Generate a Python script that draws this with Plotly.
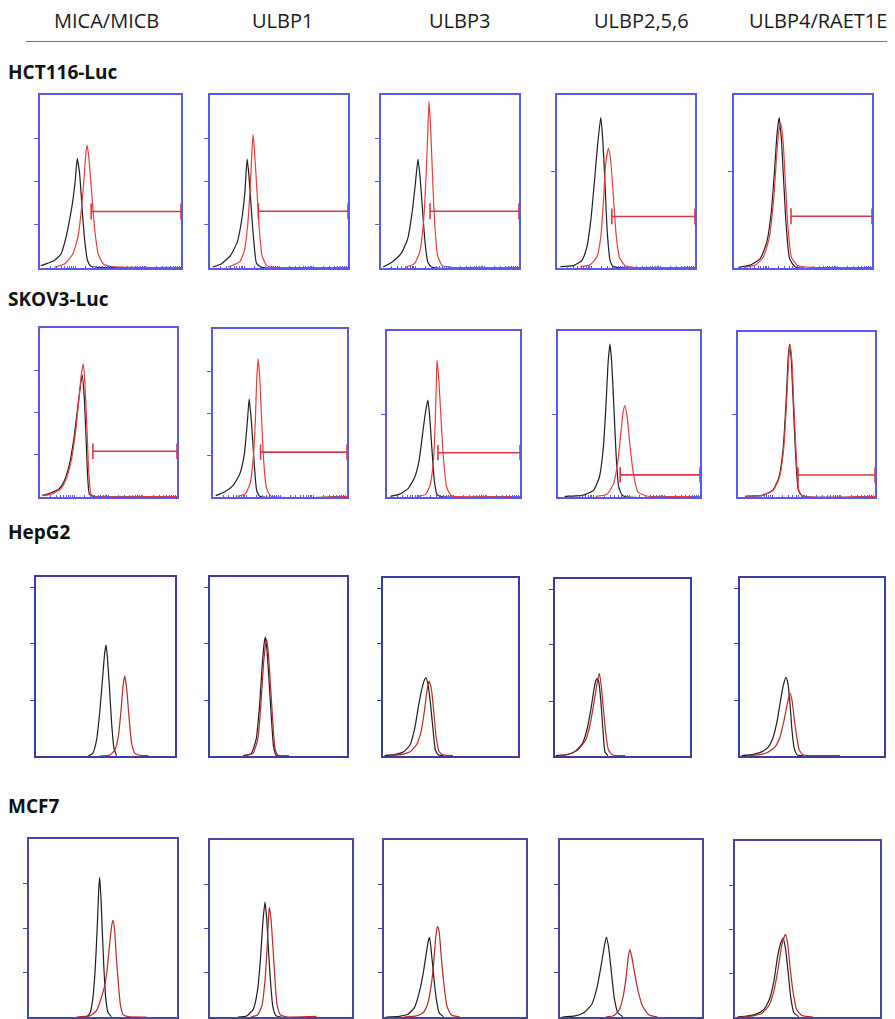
import numpy as np
import plotly.graph_objects as go

# ---------------- data ----------------
ANTIBODIES = ["MICA/MICB", "ULBP1", "ULBP3", "ULBP2,5,6", "ULBP4/RAET1E"]
CELL_LINES = ["HCT116-Luc", "SKOV3-Luc", "HepG2", "MCF7"]

# Each curve: list of (fluorescence, % of max count) points.
# Black = isotype control, red = ligand staining.
HCT116_ISO = [
    [(0.5,1.4),(5.3,2.7),(10.1,4.3),(14.9,8.1),(18.5,17.8),(20.9,27.5),(23.3,39.1),(25.0,50.7),(26.4,63.2),(28.1,54.5),(29.8,35.2),(31.7,15.9),(33.7,4.3),(36.1,1.0),(41.3,0.4),(100,0.3)],
    [(1.9,0.6),(8.4,2.5),(14.9,7.3),(19.8,15.1),(23.1,28.6),(25.3,44.0),(26.9,62.9),(28.2,53.7),(29.9,34.4),(31.8,15.1),(33.8,2.5),(37.7,0.4),(100,0.3)],
    [(1.6,0.6),(8.1,3.5),(14.5,8.3),(19.4,17.0),(22.6,32.4),(24.8,47.9),(26.8,62.9),(28.4,51.7),(30.0,34.4),(31.9,15.1),(33.9,3.5),(37.1,0.4),(100,0.3)],
    [(2.4,0.8),(12.0,1.4),(18.0,4.3),(21.6,12.0),(24.5,27.5),(27.2,50.7),(29.3,70.0),(31.7,87.0),(33.2,73.9),(34.9,46.8),(36.5,19.7),(38.5,4.3),(40.9,0.8),(100,0.3)],
    [(3.2,0.4),(11.1,1.5),(19.0,5.4),(23.8,15.1),(27.0,32.4),(29.5,57.5),(31.1,76.8),(32.7,86.9),(34.3,74.9),(35.9,51.7),(37.8,24.7),(40.3,5.4),(44.4,0.6),(100,0.3)],
]
HCT116_STAIN = [
    [(10.1,0.4),(17.3,2.3),(23.3,8.1),(26.9,17.8),(29.3,33.3),(31.3,52.6),(32.5,66.2),(33.4,71.0),(34.6,64.2),(36.5,44.9),(38.9,21.7),(41.3,8.1),(45.0,2.3),(51.0,0.8),(100,0.3)],
    [(13.3,0.6),(21.4,3.5),(24.7,9.3),(27.3,24.7),(29.2,47.9),(30.5,69.1),(31.2,77.2),(32.1,69.1),(33.8,47.9),(35.7,22.8),(37.7,7.3),(40.9,1.5),(47.4,0.4),(100,0.3)],
    [(17.7,0.4),(24.2,2.5),(28.1,9.3),(30.6,24.7),(32.6,51.7),(33.9,78.8),(34.8,96.5),(36.1,78.8),(37.4,51.7),(39.0,24.7),(41.0,7.3),(44.2,1.5),(50.0,0.4),(100,0.3)],
    [(16.8,0.8),(24.0,1.9),(28.8,6.2),(31.7,17.8),(33.7,39.1),(35.3,60.3),(37.3,69.1),(38.9,62.3),(40.9,41.0),(42.8,19.7),(45.2,6.2),(49.3,1.4),(55.3,0.4),(100,0.3)],
    [(7.9,0.4),(15.9,1.9),(21.3,6.4),(25.4,17.0),(28.6,38.2),(30.8,63.3),(32.4,78.8),(34.0,83.6),(35.6,73.0),(37.1,51.7),(39.0,24.7),(41.6,6.4),(46.0,1.5),(55.6,0.4),(100,0.3)],
]
HCT116_GATE_START = [36.3, 35.1, 35.5, 39.7, 41.3]
HCT116_GATE_LEVEL = [32.7, 32.8, 32.8, 29.8, 29.9]

SKOV3_ISO = [
    [(1.7,1.0),(8.0,2.4),(14.2,5.0),(17.9,9.9),(21.6,19.8),(24.9,35.6),(27.9,55.4),(29.9,68.3),(30.8,72.3),(32.3,59.4),(33.6,35.6),(34.8,11.9),(36.1,1.6),(39.1,0.4),(100,0.3)],
    [(2.0,0.8),(8.6,3.0),(15.1,6.9),(20.1,13.9),(23.4,25.7),(25.7,45.5),(27.0,58.4),(28.6,45.5),(30.6,21.8),(32.6,4.0),(34.9,0.4),(100,0.3)],
    [(2.6,0.4),(9.2,1.6),(15.8,5.0),(20.8,11.9),(24.1,21.8),(26.7,37.6),(29.0,51.5),(30.7,58.4),(32.0,49.5),(33.7,29.7),(35.6,9.9),(37.6,1.6),(40.6,0.2),(100,0.3)],
    [(4.7,0.4),(17.2,1.0),(25.0,4.0),(29.1,11.9),(31.9,29.7),(33.8,55.4),(35.3,81.2),(36.6,92.1),(37.8,81.2),(39.4,53.5),(40.9,25.7),(42.8,5.9),(45.9,0.6),(100,0.3)],
    [(5.2,0.4),(17.6,1.0),(25.3,4.0),(29.9,11.9),(33.0,29.7),(35.2,59.4),(36.7,85.1),(37.7,92.7),(38.9,83.2),(40.4,55.4),(42.3,21.8),(44.1,4.0),(46.9,0.6),(100,0.3)],
]
SKOV3_STAIN = [
    [(3.0,0.8),(9.2,2.0),(15.4,5.0),(19.2,10.9),(22.9,21.8),(26.1,39.6),(28.6,59.4),(30.3,73.3),(31.6,78.8),(32.8,67.3),(34.3,39.6),(35.8,11.9),(37.3,1.6),(40.3,0.4),(100,0.3)],
    [(18.4,0.4),(24.3,2.0),(27.6,7.9),(29.9,21.8),(31.6,45.5),(32.6,69.3),(33.6,82.2),(34.9,71.3),(36.2,47.5),(37.8,21.8),(39.8,5.9),(43.1,0.6),(100,0.3)],
    [(22.4,0.2),(29.0,1.6),(32.3,6.9),(34.7,19.8),(36.0,39.6),(37.0,65.3),(37.6,82.2),(38.9,71.3),(40.6,47.5),(42.6,21.8),(44.9,5.9),(48.2,0.8),(53.8,0.2),(100,0.3)],
    [(26.6,0.4),(34.4,1.6),(39.1,7.9),(42.2,21.8),(44.4,39.6),(45.9,51.5),(47.2,55.0),(48.8,47.5),(50.6,31.7),(53.1,13.9),(56.3,3.0),(62.5,0.6),(100,0.3)],
    [(5.6,0.4),(18.0,1.0),(25.7,4.0),(30.3,11.9),(33.4,29.7),(35.6,59.4),(37.1,85.1),(38.0,92.1),(39.3,83.2),(40.8,55.4),(42.7,21.8),(44.5,4.0),(47.3,0.6),(100,0.3)],
]
SKOV3_GATE_START = [38.6, 35.5, 38.3, 43.8, 43.8]
SKOV3_GATE_LEVEL = [27.1, 26.7, 26.7, 13.3, 13.3]

HEPG2_ISO = [
    [(37.6,0),(40.8,1.5),(43.6,9.0),(46.0,25.7),(48.0,44.4),(49.4,57.5),(50.4,62.1),(51.3,55.6),(52.8,38.8),(54.4,18.3),(56.1,4.3),(58.0,0.2)],
    [(24.3,0.2),(30.2,1.5),(33.8,9.9),(36.2,28.4),(38.1,50.7),(39.5,62.8),(40.5,66.5),(41.7,58.2),(43.3,39.6),(45.0,19.1),(46.4,5.2),(48.1,0.6),(52.9,0)],
    [(1.2,0.2),(9.4,0.9),(15.3,2.4),(20.0,6.2),(23.5,15.5),(26.4,28.6),(28.9,38.0),(30.6,42.6),(31.8,44.1),(33.4,39.8),(35.3,28.6),(37.2,13.6),(38.8,3.4),(41.2,0.6),(44.7,0.2)],
    [(0.5,0.2),(7.5,0.6),(14.5,2.4),(20.4,7.2),(23.9,15.6),(26.7,26.9),(29.0,38.2),(30.4,42.9),(31.4,43.9),(32.6,41.1),(34.0,30.7),(35.6,13.7),(37.0,2.4),(39.1,0.2)],
    [(1.2,0.2),(9.3,0.9),(15.0,2.3),(19.7,5.1),(23.1,10.7),(25.9,20.1),(28.2,31.4),(30.1,39.8),(31.9,44.2),(33.3,40.8),(34.7,29.5),(36.1,14.5),(37.7,4.1),(39.8,0.6),(44.0,0.2)],
]
HEPG2_STAIN = [
    [(46.0,0),(53.2,0.6),(56.8,3.4),(59.2,10.8),(61.2,25.7),(62.6,38.8),(63.8,44.8),(65.2,37.9),(66.9,22.0),(68.8,7.1),(71.2,1.5),(74.8,0.4),(80.8,0.2)],
    [(25.5,0.2),(31.4,1.5),(35.0,9.9),(37.1,28.4),(39.0,50.7),(40.5,61.9),(41.4,65.2),(42.6,57.2),(44.3,37.7),(46.0,17.3),(47.4,4.6),(49.3,0.6),(57.6,0.2)],
    [(4.7,0.2),(14.1,0.9),(20.0,2.4),(24.7,6.2),(28.2,13.6),(30.6,24.9),(32.5,36.1),(34.1,42.1),(35.8,37.9),(37.6,24.9),(39.5,9.9),(41.6,2.4),(44.7,0.6),(51.8,0.2)],
    [(2.8,0.2),(9.8,0.9),(16.9,3.4),(22.7,9.0),(26.2,18.5),(29.0,30.7),(31.4,42.0),(32.8,46.7),(34.2,40.1),(35.6,28.8),(37.5,13.7),(39.6,3.4),(42.6,0.6),(52.0,0.2)],
    [(4.6,0.2),(13.9,0.8),(19.7,2.3),(24.3,5.1),(27.8,10.7),(30.6,20.1),(32.9,29.5),(34.7,35.2),(36.1,31.4),(37.5,22.0),(39.4,10.7),(41.2,3.2),(44.0,0.6),(50.9,0.2),(69.4,0.2)],
]

MCF7_ISO = [
    [(39.2,0),(41.4,2.5),(43.2,10.9),(44.8,27.9),(46.2,52.5),(47.1,71.3),(47.7,78.5),(48.6,67.5),(49.5,48.7),(50.7,26.0),(51.8,10.9),(53.4,2.5),(55.6,0.2)],
    [(19.6,0),(25.8,0.6),(30.4,4.3),(33.4,14.6),(35.6,33.4),(37.1,52.2),(38.7,64.9),(39.9,55.9),(41.1,39.0),(42.6,20.3),(44.2,6.2),(46.3,0.8),(50.3,0)],
    [(1.5,0),(10.7,0.4),(16.8,1.5),(21.4,5.3),(24.5,12.8),(27.5,24.2),(29.7,35.5),(31.2,43.0),(32.1,45.0),(33.3,37.1),(34.9,24.0),(36.7,10.9),(38.8,2.4),(41.9,0.2)],
    [(1.5,0),(10.7,0.6),(16.8,2.4),(22.3,7.1),(26.0,16.5),(29.1,29.6),(31.2,39.9),(32.7,45.2),(34.3,39.0),(36.1,25.9),(38.2,10.9),(40.7,2.4),(44.3,0.2)],
    [(1.5,0),(9.2,0.6),(15.4,1.9),(20.0,4.3),(23.7,9.9),(26.8,20.3),(29.2,33.4),(31.4,41.8),(33.2,44.7),(34.8,39.0),(36.6,25.9),(38.5,10.9),(40.6,2.4),(44.0,0.2)],
]
MCF7_STAIN = [
    [(32.0,0),(41.0,0.6),(45.5,3.4),(48.9,10.9),(51.1,17.5),(52.7,26.0),(54.5,41.1),(55.9,51.5),(56.8,54.3),(57.9,48.7),(59.0,33.6),(60.4,18.5),(61.7,7.2),(63.5,1.5),(66.9,0.2),(79.3,0)],
    [(28.8,0),(33.4,1.1),(36.5,6.2),(38.7,20.3),(40.2,39.0),(41.1,54.0),(41.7,61.9),(42.9,56.1),(44.2,40.9),(45.7,22.1),(47.2,7.1),(49.7,1.1),(54.9,0),(75,0.3)],
    [(13.8,0),(22.9,0.6),(27.5,2.4),(30.6,7.1),(33.0,16.5),(34.9,29.6),(36.4,44.7),(37.6,51.2),(38.8,48.4),(40.4,33.4),(42.2,18.4),(44.3,6.2),(47.4,1.1),(53.5,0)],
    [(32.1,0),(38.2,0.9),(41.9,4.3),(44.3,10.9),(46.5,22.1),(48.0,33.4),(49.2,38.1),(50.5,34.3),(52.3,25.9),(55.0,14.6),(58.1,6.2),(62.7,1.1),(68.8,0)],
    [(4.6,0),(12.3,0.6),(18.5,2.1),(23.1,6.2),(26.8,14.6),(29.8,27.8),(32.3,40.9),(34.8,46.9),(36.3,41.8),(37.8,29.6),(40.0,14.6),(42.5,4.3),(46.2,0.8),(53.8,0)],
]

# y tick positions (count axis) per row / panel
HCT116_YTICKS = [[25, 50, 75], [25, 50, 75], [25, 50, 75], [56], [56]]
SKOV3_YTICKS = [[25, 50, 75], [25, 50, 75], [50], [50], [50]]
HEPG2_YTICKS = [[31, 63, 94]] * 5
MCF7_YTICKS = [[25, 50, 75]] * 5

# ---------------- layout (page pixels) ----------------
# The page body has an 8px margin, so the figure is shifted to compensate.
OFF = 8
FW, FH = 895 - OFF, 1019 - OFF


def px(x):
    return (x - OFF) / FW


def py(y):
    return 1 - (y - OFF) / FH


ROWS = [
    dict(iso=HCT116_ISO, stain=HCT116_STAIN, gs=HCT116_GATE_START, gl=HCT116_GATE_LEVEL, yt=HCT116_YTICKS,
         boxes=[(40,181,95,268),(210,348,95,268),(381,519,95,268),(557,695,95,268),(734,872,95,268)],
         frame="#5a5ae8", red="#ec3b3b", fw=1.8, label_y=72),
    dict(iso=SKOV3_ISO, stain=SKOV3_STAIN, gs=SKOV3_GATE_START, gl=SKOV3_GATE_LEVEL, yt=SKOV3_YTICKS,
         boxes=[(40,177,328,497),(213,347,329,497),(387,520,331,497),(558,700,331,497),(738,875,332,497)],
         frame="#5a5ae8", red="#ec3b3b", fw=1.8, label_y=299),
    dict(iso=HEPG2_ISO, stain=HEPG2_STAIN, gs=None, gl=None, yt=HEPG2_YTICKS,
         boxes=[(36,175,577,756),(210,347,577,756),(383,518,578,756),(555,690,579,756),(740,884,578,756)],
         frame="#3c3ca6", red="#b8282c", fw=1.5, label_y=532),
    dict(iso=MCF7_ISO, stain=MCF7_STAIN, gs=None, gl=None, yt=MCF7_YTICKS,
         boxes=[(29,177,839,1017),(210,352,840,1017),(384,526,840,1017),(560,702,840,1017),(735,880,841,1017)],
         frame="#4646a6", red="#b8282c", fw=1.5, label_y=806),
]

# log-decade style minor ticks along the fluorescence axis
minor_x = [d * 25 + 25 * np.log10(k) for d in range(4) for k in range(1, 10)] + [100]

fig = go.Figure()
layout = {}
CAP = 4.6
idx = 0
for r, row in enumerate(ROWS):
    for c in range(5):
        idx += 1
        xa = "x" if idx == 1 else f"x{idx}"
        ya = "y" if idx == 1 else f"y{idx}"
        l, rr, t, b = row["boxes"][c]
        iso = row["iso"][c]
        st = row["stain"][c]
        fig.add_trace(go.Scatter(x=[p[0] for p in iso], y=[p[1] for p in iso], mode="lines",
                                 line=dict(color="#1e1e1e", width=1.2, shape="spline", smoothing=0.5),
                                 xaxis=xa, yaxis=ya, showlegend=False, hoverinfo="skip"))
        fig.add_trace(go.Scatter(x=[p[0] for p in st], y=[p[1] for p in st], mode="lines",
                                 line=dict(color=row["red"], width=1.2, shape="spline", smoothing=0.5),
                                 xaxis=xa, yaxis=ya, showlegend=False, hoverinfo="skip"))
        if row["gs"] is not None:
            g, lv = row["gs"][c], row["gl"][c]
            fig.add_trace(go.Scatter(
                x=[g, g, None, g, 100, None, 100, 100],
                y=[lv - CAP, lv + CAP, None, lv, lv, None, lv - CAP, lv + CAP],
                mode="lines", line=dict(color="#dc3545", width=1.6),
                xaxis=xa, yaxis=ya, showlegend=False, hoverinfo="skip"))
        xkey = "xaxis" if idx == 1 else f"xaxis{idx}"
        ykey = "yaxis" if idx == 1 else f"yaxis{idx}"
        xdict = dict(domain=[px(l), px(rr)], range=[0, 100], anchor=ya, showgrid=False, zeroline=False,
                     showline=True, mirror=True, linecolor=row["frame"], linewidth=row["fw"],
                     showticklabels=False, fixedrange=True)
        if r < 2:
            xdict.update(ticks="inside", tickvals=minor_x, ticklen=2, tickwidth=1, tickcolor=row["frame"])
        else:
            xdict.update(ticks="")
        layout[xkey] = xdict
        layout[ykey] = dict(domain=[py(b), min(1, py(t))], range=[0, 100], anchor=xa, showgrid=False,
                            zeroline=False, showline=True, mirror=True, linecolor=row["frame"],
                            linewidth=row["fw"], ticks="outside", tickvals=row["yt"][c], ticklen=4,
                            tickwidth=1.2, tickcolor=row["frame"], showticklabels=False, fixedrange=True)

annotations = []
header_x = [106, 282, 459, 641, 818]
for name, hx in zip(ANTIBODIES, header_x):
    annotations.append(dict(text=name, x=px(hx), y=py(21), xref="paper", yref="paper",
                            xanchor="center", yanchor="middle", showarrow=False,
                            font=dict(family="Open Sans", size=20, color="#1a1a1a")))
for name, row in zip(CELL_LINES, ROWS):
    annotations.append(dict(text=f"<b>{name}</b>", x=px(6), y=py(row["label_y"]), xref="paper", yref="paper",
                            xanchor="left", yanchor="middle", showarrow=False,
                            font=dict(family="Open Sans", size=19, color="#111111")))

fig.update_layout(
    width=FW, height=FH, autosize=False,
    margin=dict(l=0, r=0, t=0, b=0),
    paper_bgcolor="white", plot_bgcolor="white",
    annotations=annotations,
    shapes=[dict(type="line", xref="paper", yref="paper", x0=px(26), x1=1, y0=py(41.5), y1=py(41.5),
                 line=dict(color="#4a72c0", width=1))],
    **layout,
)

fig.write_html("out.html")
